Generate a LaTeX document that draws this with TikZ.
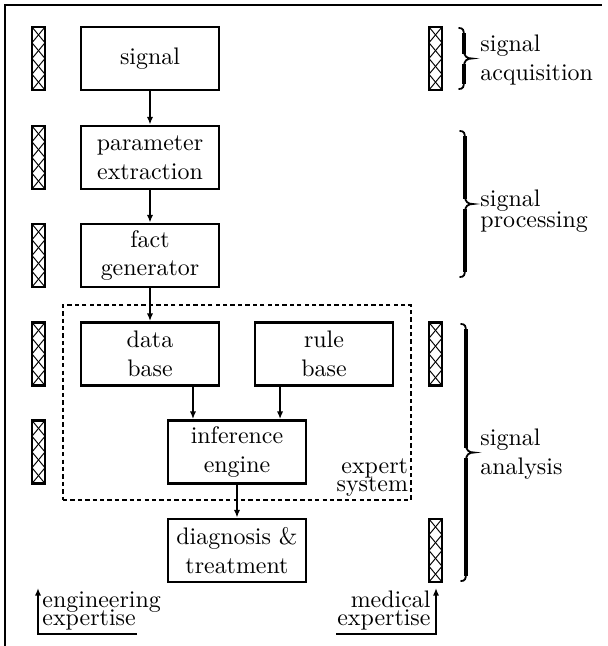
\documentclass[tikz,border=0pt]{standalone}
\usetikzlibrary{arrows.meta}
\begin{document}
\begin{tikzpicture}[x=0.418pt, y=-0.418pt,
  stage/.style={draw, line width=1.2pt, minimum width=57.7pt, minimum height=26.3pt,
    inner sep=1pt, align=center},
  arr/.style={line width=0.8pt, -{Latex[length=3.2pt,width=2.6pt]}},
  frame/.style={line width=1.2pt},
  bracestroke/.style={line width=0.75pt, line cap=round},
  bracestem/.style={line width=1.3pt},
  side/.style={anchor=west, inner sep=0pt, align=left},
  hatchbar/.pic={
    \draw[line width=0.4pt] (-6.5,-31.5) -- (6.5,-15.75) -- (-6.5,0) -- (6.5,15.75) -- (-6.5,31.5);
    \draw[line width=0.4pt] (6.5,-31.5) -- (-6.5,-15.75) -- (6.5,0) -- (-6.5,15.75) -- (6.5,31.5);
    \draw[line width=1.1pt] (-6.5,-31.5) rectangle (6.5,31.5);
  }]
\useasboundingbox (0,0) rectangle (607,646);

% right curly brace: left edge #1, from #2 down to #3 (pixel units);
% thin hooked ends, heavier straight stems
\newcommand\phasebrace[3]{%
  \pgfmathsetmacro\bmid{(#2+#3)/2}%
  \draw[bracestroke] (#1,#2) .. controls (#1+4,#2) and (#1+5,#2+2) .. (#1+5,#2+8)
    -- (#1+5,\bmid-8) .. controls (#1+5,\bmid-2) and (#1+8,\bmid) .. (#1+13,\bmid)
    .. controls (#1+8,\bmid) and (#1+5,\bmid+2) .. (#1+5,\bmid+8)
    -- (#1+5,#3-8) .. controls (#1+5,#3-2) and (#1+4,#3) .. (#1,#3);
  \draw[bracestem] (#1+5,#2+5) -- (#1+5,\bmid-5);
  \draw[bracestem] (#1+5,\bmid+5) -- (#1+5,#3-5);}

% outer frame (top and left sides)
\draw[frame] (5,646) -- (5,5) -- (602,5);

% processing chain
\node[stage] (sig)  at (150,58.5)  {signal};
\node[stage] (par)  at (150,157.5) {parameter\\extraction};
\node[stage] (fact) at (150,255.5) {fact\\generator};
\node[stage] (data) at (150,354)   {data\\base};
\node[stage] (rule) at (324,354)   {rule\\base};
\node[stage] (inf)  at (237,452)   {inference\\engine};
\node[stage] (diag) at (237,550.5) {diagnosis \&\\treatment};

% expert system boundary
\node[draw, dash pattern=on 1.8pt off 1.3pt, line width=0.8pt,
      minimum width=145.5pt, minimum height=81.5pt, inner sep=0pt] (es) at (237,402.5) {};
\node[anchor=south east, inner sep=1.5pt, align=right] (eslab) at (es.south east)
  {expert\\[-4.2pt]system};

% connectors
\draw[arr] (sig) -- (par);
\draw[arr] (par) -- (fact);
\draw[arr] (fact) -- (data);
\coordinate (inA) at ([xshift=-18.4pt]inf.north);
\coordinate (inB) at ([xshift=18.0pt]inf.north);
\draw[arr] (data.south -| inA) -- (inA);
\draw[arr] (rule.south -| inB) -- (inB);
\draw[arr] (inf) -- (diag);

% hatched bars
\foreach \y in {58.5,157.5,255.5,354,452} \pic at (38.5,\y) {hatchbar};
\foreach \y in {58.5,354,550.5} \pic at (435.5,\y) {hatchbar};

% braces and phase labels
\phasebrace{459}{28}{89}
\phasebrace{460}{131}{277}
\phasebrace{461}{324}{581}
\node[side] (l1) at (480,60)  {signal\\acquisition};
\node[side] (l2) at (480,211) {signal\\[-3.5pt]processing};
\node[side] (l3) at (480,454) {signal\\analysis};

% expertise inputs
\coordinate (engtip) at (38,588);
\coordinate (engend) at (137,634);
\draw[arr] (engend) -| (engtip);
\node[anchor=south west, inner sep=0pt, align=left] (eng) at (42,631)
  {engineering\\[-4.2pt]expertise};
\coordinate (medtip) at (436,588);
\coordinate (medend) at (336,634);
\draw[arr] (medend) -| (medtip);
\node[anchor=south east, inner sep=0pt, align=right] (med) at (431,631)
  {medical\\[-4.2pt]expertise};
\end{tikzpicture}
\end{document}
